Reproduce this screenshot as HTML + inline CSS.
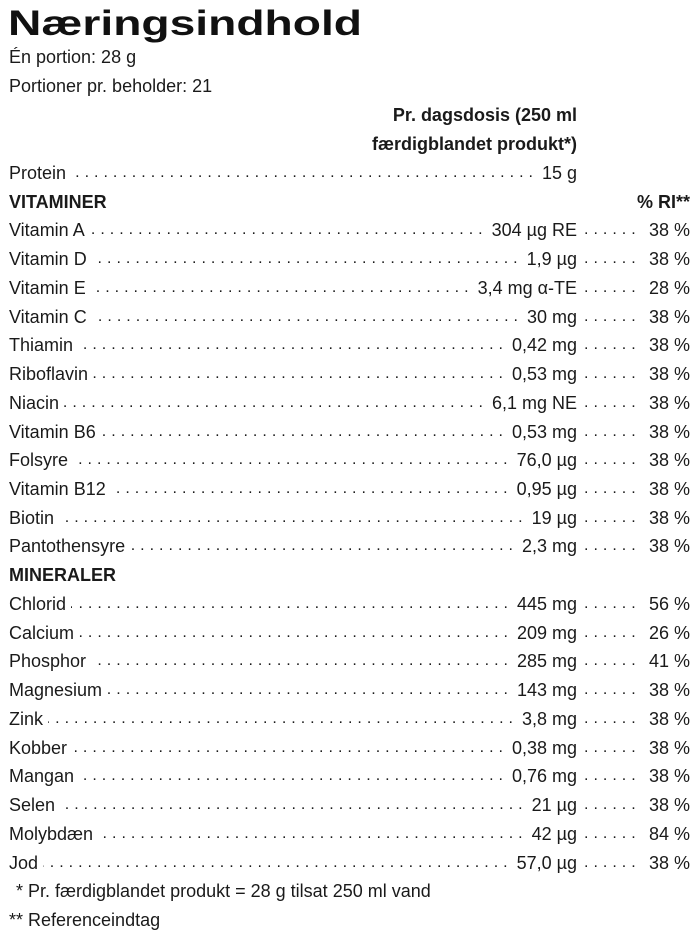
<!DOCTYPE html>
<html><head><meta charset="utf-8"><style>
body{margin:0;width:700px;height:942px;background:#fff;position:relative;overflow:hidden;font-family:"Liberation Sans Narrow","Liberation Sans",sans-serif;color:#1a1a1a;font-size:18px}
.r{position:absolute;left:9px;width:568px;height:28px;line-height:28px;display:flex;white-space:nowrap}
.d{flex:1;overflow:hidden;margin:0 4px 0 5px;letter-spacing:5px;font-size:16px;text-align:right;direction:rtl}
.d2{position:absolute;left:584px;width:52px;height:28px;line-height:28px;overflow:hidden;letter-spacing:5px;font-size:16px;white-space:nowrap}
.p{position:absolute;right:10px;height:28px;line-height:28px;text-align:right}
.t{position:absolute;left:9px;height:28px;line-height:28px;white-space:nowrap}
</style></head><body>
<svg style="position:absolute;left:0;top:0" width="380" height="50"><text x="8" y="35" textLength="354" lengthAdjust="spacingAndGlyphs" font-family="Liberation Sans" font-weight="bold" font-size="35" fill="#111">Næringsindhold</text></svg>
<div class="t" style="top:43px">Én portion: 28 g</div>
<div class="t" style="top:72px">Portioner pr. beholder: 21</div>
<div class="t" style="top:101px;left:auto;right:123px;font-weight:bold">Pr. dagsdosis (250 ml</div>
<div class="t" style="top:130px;left:auto;right:123px;font-weight:bold">færdigblandet produkt*)</div>
<div id="rows"></div>
<div class="t" style="top:877px;left:16px">* Pr. færdigblandet produkt = 28 g tilsat 250 ml vand</div>
<div class="t" style="top:906px">** Referenceindtag</div>
<script>
var D="";for(var k=0;k<90;k++)D+=".";
var rows=[["Protein","15 g",null],["H","VITAMINER","% RI**"],
["Vitamin A","304 µg RE","38 %"],["Vitamin D","1,9 µg","38 %"],["Vitamin E","3,4 mg α-TE","28 %"],["Vitamin C","30 mg","38 %"],["Thiamin","0,42 mg","38 %"],["Riboflavin","0,53 mg","38 %"],["Niacin","6,1 mg NE","38 %"],["Vitamin B6","0,53 mg","38 %"],["Folsyre","76,0 µg","38 %"],["Vitamin B12","0,95 µg","38 %"],["Biotin","19 µg","38 %"],["Pantothensyre","2,3 mg","38 %"],
["H","MINERALER",""],
["Chlorid","445 mg","56 %"],["Calcium","209 mg","26 %"],["Phosphor","285 mg","41 %"],["Magnesium","143 mg","38 %"],["Zink","3,8 mg","38 %"],["Kobber","0,38 mg","38 %"],["Mangan","0,76 mg","38 %"],["Selen","21 µg","38 %"],["Molybdæn","42 µg","84 %"],["Jod","57,0 µg","38 %"]];
var h="";
rows.forEach(function(r,i){var top=173+i*28.73-14;
if(r[0]=="H"){h+='<div class="t" style="top:'+top+'px;font-weight:bold">'+r[1]+'</div>';if(r[2])h+='<div class="p" style="top:'+top+'px;font-weight:bold">'+r[2]+'</div>';}
else{h+='<div class="r" style="top:'+top+'px"><span>'+r[0]+'</span><span class="d">'+D+'</span><span>'+r[1]+'</span></div>';
if(r[2]){h+='<div class="d2" style="top:'+top+'px">'+D+'</div><div class="p" style="top:'+top+'px">'+r[2]+'</div>';}}});
document.getElementById("rows").innerHTML=h;
</script>
</body></html>
